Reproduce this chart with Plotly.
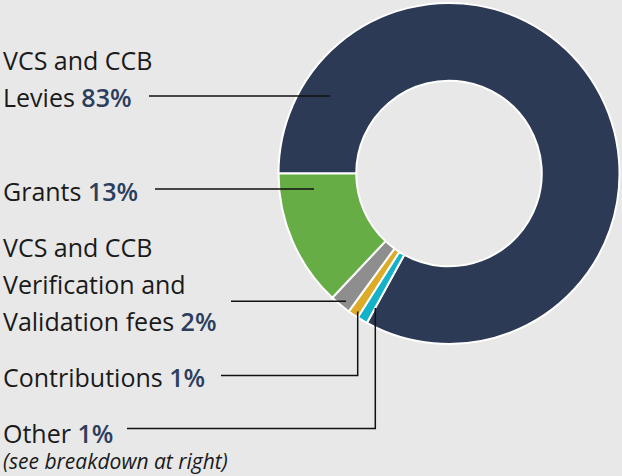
import plotly.graph_objects as go

# Data
categories = ["VCS and CCB Levies", "Other", "Contributions",
              "VCS and CCB Verification and Validation fees", "Grants"]
values = [83, 1, 1, 2, 13]
colors = ["#2c3a56", "#14b2c8", "#dbab29", "#8e8e8e", "#67ad46"]

# Label lines (text, percent value, y centre in px)
label_lines = [
    ("VCS and CCB", None, 60),
    ("Levies", "83%", 97),
    ("Grants", "13%", 191),
    ("VCS and CCB", None, 246.5),
    ("Verification and", None, 283.5),
    ("Validation fees", "2%", 320.5),
    ("Contributions", "1%", 376.5),
    ("Other", "1%", 432.5),
]
note_text = "(see breakdown at right)"

W, H = 622, 476
BG = "#e8e8e8"
NAVY = "#2c3e5e"
TXT = "#1a1a1a"
FONT = "Open Sans"

cx, cy, r = 449, 173.5, 170.5

fig = go.Figure()
fig.add_trace(go.Pie(
    labels=categories,
    values=values,
    hole=0.544,
    sort=False,
    direction="clockwise",
    rotation=-90,
    marker=dict(colors=colors, line=dict(color="white", width=2)),
    textinfo="none",
    hoverinfo="label+percent",
    showlegend=False,
    domain=dict(x=[(cx - r) / W, (cx + r) / W],
                y=[1 - (cy + r) / H, 1 - (cy - r) / H]),
))

def py(v):
    return 1 - v / H

annotations = []
for txt, pct, yc in label_lines:
    t = txt
    if pct:
        t += f' <span style="color:{NAVY};font-weight:600">{pct}</span>'
    annotations.append(dict(
        x=1 / W, y=py(yc), xref="paper", yref="paper",
        xanchor="left", yanchor="middle", text=t, showarrow=False,
        font=dict(family=FONT, size=25, color=TXT),
    ))
annotations.append(dict(
    x=1 / W, y=py(461), xref="paper", yref="paper",
    xanchor="left", yanchor="middle",
    text=f"<i>{note_text}</i>", showarrow=False,
    font=dict(family=FONT, size=21, color=TXT),
))

line_style = dict(color="#111111", width=1.5)
leaders = [
    [(149, 96), (330, 96)],
    [(155, 189), (314, 189)],
    [(231, 301.3), (346, 301.3)],
    [(221, 375.5), (357.7, 375.5), (357.7, 311.5)],
    [(127, 428.5), (375.3, 428.5), (375.3, 308)],
]
shapes = []
for pts in leaders:
    shapes.append(dict(type="path", xref="paper", yref="paper",
                       path=" ".join(
                           [("M" if i == 0 else "L") + f" {x / W},{py(y)}" for i, (x, y) in enumerate(pts)]),
                       line=line_style))

fig.update_layout(
    width=W, height=H,
    margin=dict(l=0, r=0, t=0, b=0),
    paper_bgcolor=BG, plot_bgcolor=BG,
    annotations=annotations,
    shapes=shapes,
)
fig.write_html("out.html", config={"displayModeBar": False},
               post_script="document.body.style.margin='0';document.body.style.overflow='hidden';")
